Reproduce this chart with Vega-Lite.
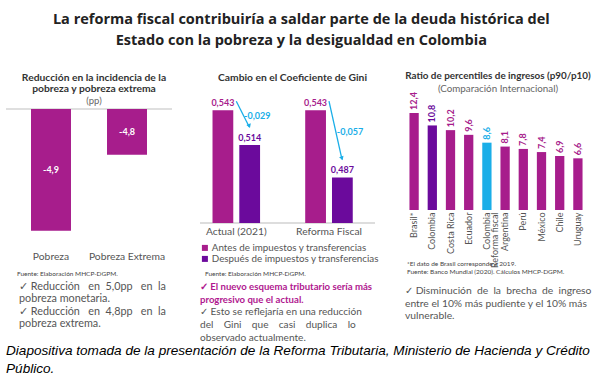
{
  "$schema": "https://vega.github.io/schema/vega-lite/v6.json",
  "background": "white",
  "padding": {"left": 5, "top": 11, "right": 0, "bottom": 0},
  "config": {
    "view": {"stroke": null},
    "font": "Lato",
    "locale": {"number": {"decimal": ",", "thousands": ".", "grouping": [3], "currency": ["$", ""], "minus": "-"}},
    "axis": {"labelFont": "Lato", "labelColor": "#555", "domain": false, "ticks": false, "grid": false, "title": null},
    "title": {"font": "Lato", "subtitleFont": "Lato"}
  },
  "title": {
    "text": ["Diapositiva tomada de la presentación de la Reforma Tributaria, Ministerio de Hacienda y Crédito", "Público."],
    "orient": "bottom", "anchor": "start", "frame": "group",
    "font": "Liberation Sans", "fontStyle": "italic", "fontWeight": "normal", "fontSize": 13.6, "color": "#000", "lineHeight": 18, "offset": 1
  },
  "resolve": {"legend": {"color": "independent"}, "scale": {"color": "independent"}},
  "vconcat": [
    {
      "title": {
        "text": ["La reforma fiscal contribuiría a saldar parte de la deuda histórica del", "Estado con la pobreza y la desigualdad en Colombia"],
        "anchor": "middle", "frame": "bounds", "font": "Open Sans", "fontSize": 14.5, "fontWeight": "bold", "color": "#222", "lineHeight": 21, "offset": 23, "dx": 3
      },
      "bounds": "full",
      "spacing": 26,
      "resolve": {"legend": {"color": "independent"}, "scale": {"color": "independent"}},
      "hconcat": [
        {
          "bounds": "flush",
          "spacing": 10,
          "vconcat": [
            {
              "width": 166, "height": 137,
              "title": {"text": ["Reducción en la incidencia de la", "pobreza y pobreza extrema"], "subtitle": "(pp)", "fontSize": 10.3, "fontWeight": "bold", "color": "#333", "lineHeight": 11.3, "subtitleFontSize": 9.5, "subtitleColor": "#666", "subtitlePadding": 1, "offset": 3, "dx": 5, "anchor": "middle"},
              "data": {"values": [
                {"indicador": "Pobreza", "cambio": -4.9},
                {"indicador": "Pobreza Extrema", "cambio": -4.8}
              ]},
              "resolve": {"scale": {"y": "independent"}},
              "layer": [
                {
                  "mark": {"type": "rule", "color": "#dddddd", "strokeWidth": 1.5},
                  "encoding": {"y": {"datum": -4.74, "scale": {"domain": [-4.92, -4.74], "nice": false, "zero": false}, "axis": null}}
                },
                {
                  "mark": {"type": "bar", "color": "#A71D8C"},
                  "encoding": {
                    "x": {"field": "indicador", "type": "nominal", "sort": null, "scale": {"paddingInner": 0.474, "paddingOuter": 0.329}, "axis": {"labelAngle": 0, "labelFontSize": 10.3, "labelPadding": 5}},
                    "y": {"field": "cambio", "type": "quantitative", "scale": {"domain": [-4.92, -4.74], "nice": false, "zero": false}, "axis": null},
                    "y2": {"datum": -4.74}
                  }
                },
                {
                  "mark": {"type": "text", "color": "white", "fontSize": 9, "fontWeight": "bold", "baseline": "middle"},
                  "encoding": {
                    "x": {"field": "indicador", "type": "nominal", "sort": null},
                    "y": {"field": "cambio", "type": "quantitative", "scale": {"domain": [-5.1, -4.74], "nice": false, "zero": false}, "axis": null},
                    "text": {"field": "cambio", "type": "quantitative", "format": ".1f"}
                  }
                }
              ]
            },
            {
              "width": 166, "height": 1,
              "data": {"values": []},
              "mark": {"type": "point", "opacity": 0},
              "title": {"text": "Fuente: Elaboración MHCP-DGPM.", "orient": "bottom", "anchor": "start", "fontSize": 6.5, "fontWeight": "normal", "color": "#444", "offset": 13.5, "dx": 11}
            },
            {
              "width": 166, "height": 1,
              "data": {"values": []},
              "mark": {"type": "point", "opacity": 0},
              "title": {"text": ["✓ Reducción\u00a0\u00a0 en\u00a0 5,0pp\u00a0\u00a0 en\u00a0 la", "\u00a0\u00a0\u00a0\u00a0pobreza monetaria.", "✓ Reducción\u00a0\u00a0 en\u00a0 4,8pp\u00a0\u00a0 en\u00a0 la", "\u00a0\u00a0\u00a0\u00a0pobreza extrema."], "orient": "bottom", "anchor": "start", "fontSize": 10.8, "fontWeight": "normal", "color": "#555", "lineHeight": 12.6, "offset": 12.5, "dx": 13}
            }
          ]
        },
        {
          "bounds": "flush",
          "spacing": 10,
          "resolve": {"legend": {"color": "independent"}, "scale": {"color": "independent"}},
          "vconcat": [
            {
              "width": 175, "height": 114,
              "title": {"text": "Cambio en el Coeficiente de Gini", "fontSize": 10.3, "fontWeight": "bold", "color": "#333", "offset": 16, "dx": 5, "anchor": "middle"},
              "layer": [
                {
                  "data": {"values": [
                    {"grupo": "Actual (2021)", "momento": "Antes de impuestos y transferencias", "gini": 0.543},
                    {"grupo": "Actual (2021)", "momento": "Después de impuestos y transferencias", "gini": 0.514},
                    {"grupo": "Reforma Fiscal", "momento": "Antes de impuestos y transferencias", "gini": 0.543},
                    {"grupo": "Reforma Fiscal", "momento": "Después de impuestos y transferencias", "gini": 0.487}
                  ]},
                  "layer": [
                    {
                      "mark": {"type": "rule", "color": "#dddddd", "strokeWidth": 1.5},
                      "encoding": {"y": {"datum": 0.449}}
                    },
                    {
                      "mark": {"type": "bar"},
                      "encoding": {
                        "x": {"field": "grupo", "type": "nominal", "sort": null, "scale": {"paddingInner": 0.487, "paddingOuter": 0.1875, "align": 0.36}, "axis": {"labelAngle": 0, "labelFontSize": 10.3, "labelPadding": 3}},
                        "xOffset": {"field": "momento", "type": "nominal", "sort": null, "scale": {"paddingInner": 0.225, "paddingOuter": 0}},
                        "y": {"field": "gini", "type": "quantitative", "scale": {"domain": [0.449, 0.544], "nice": false, "zero": false}, "axis": null},
                        "y2": {"datum": 0.449},
                        "color": {"field": "momento", "type": "nominal", "sort": null, "scale": {"range": ["#A71D8C", "#6B0A9C"]},
                          "legend": {"title": null, "orient": "bottom", "direction": "vertical", "symbolType": "square", "symbolSize": 36, "labelFontSize": 9.8, "labelColor": "#555", "labelFont": "Lato", "rowPadding": 0, "offset": 6, "labelOffset": 2, "labelLimit": 300, "padding": 0}}
                      }
                    },
                    {
                      "mark": {"type": "text", "fontSize": 9, "fontWeight": "bold", "baseline": "bottom", "dy": -2},
                      "encoding": {
                        "x": {"field": "grupo", "type": "nominal", "sort": null},
                        "xOffset": {"field": "momento", "type": "nominal", "sort": null},
                        "y": {"field": "gini", "type": "quantitative"},
                        "text": {"field": "gini", "type": "quantitative", "format": ".3f"},
                        "color": {"field": "momento", "type": "nominal", "sort": null}
                      }
                    }
                  ]
                },
                {
                  "data": {"values": [
                    {"grupo": "Actual (2021)", "desde": 0.543, "hasta": 0.514, "cambio": -0.029},
                    {"grupo": "Reforma Fiscal", "desde": 0.543, "hasta": 0.487, "cambio": -0.057}
                  ]},
                  "layer": [
                    {
                      "mark": {"type": "rule", "color": "#1AAEE8", "strokeWidth": 1.3, "yOffset": -9, "y2Offset": -18, "x2Offset": 13},
                      "encoding": {
                        "x": {"field": "grupo", "type": "nominal", "sort": null},
                        "x2": {"field": "grupo"},
                        "y": {"field": "desde", "type": "quantitative"},
                        "y2": {"field": "hasta"}
                      }
                    },
                    {
                      "mark": {"type": "point", "shape": "triangle-down", "filled": true, "size": 22, "opacity": 1, "color": "#1AAEE8", "xOffset": 13, "yOffset": -19, "angle": -20},
                      "encoding": {
                        "x": {"field": "grupo", "type": "nominal", "sort": null},
                        "y": {"field": "hasta", "type": "quantitative"}
                      }
                    },
                    {
                      "transform": [{"fold": ["desde", "hasta"], "as": ["extremo", "valor"]}],
                      "mark": {"type": "text", "color": "#1AAEE8", "fontSize": 9, "fontWeight": "bold", "dx": 21, "dy": -12},
                      "encoding": {
                        "x": {"field": "grupo", "type": "nominal", "sort": null},
                        "y": {"aggregate": "mean", "field": "valor", "type": "quantitative"},
                        "text": {"field": "cambio", "type": "quantitative", "format": ".3f"}
                      }
                    }
                  ]
                }
              ]
            },
            {
              "width": 175, "height": 1,
              "data": {"values": []},
              "mark": {"type": "point", "opacity": 0},
              "title": {"text": "Fuente: Elaboración MHCP-DGPM.", "orient": "bottom", "anchor": "start", "fontSize": 6.5, "fontWeight": "normal", "color": "#444", "offset": 36.5, "dx": 5}
            },
            {
              "width": 175, "height": 1,
              "data": {"values": []},
              "mark": {"type": "point", "opacity": 0},
              "title": {"text": ["✓ El nuevo esquema tributario sería más", "\u00a0\u00a0\u00a0\u00a0progresivo que el actual."], "subtitle": ["✓ Esto se reflejaría en una reducción", "\u00a0\u00a0\u00a0\u00a0del\u00a0\u00a0\u00a0 Gini\u00a0\u00a0\u00a0 que\u00a0\u00a0\u00a0 casi\u00a0\u00a0\u00a0 duplica\u00a0\u00a0\u00a0 lo", "\u00a0\u00a0\u00a0\u00a0observado actualmente."], "orient": "bottom", "anchor": "start", "fontSize": 9.6, "fontWeight": "bold", "color": "#B0178F", "lineHeight": 12.5, "subtitleFontSize": 10.1, "subtitleColor": "#555", "subtitleLineHeight": 12.8, "subtitlePadding": 3, "offset": 37, "dx": 0}
            }
          ]
        },
        {
          "bounds": "flush",
          "spacing": 10,
          "vconcat": [
            {
              "width": 182, "height": 101,
              "title": {"text": "Ratio de percentiles de ingresos (p90/p10)", "subtitle": "(Comparación Internacional)", "fontSize": 9.9, "fontWeight": "bold", "color": "#333", "subtitleFontSize": 9.8, "subtitleColor": "#666", "subtitlePadding": 3, "offset": -2, "dx": 2, "anchor": "middle"},
              "data": {"values": [
                {"pais": "Brasil*", "ratio": 12.4},
                {"pais": "Colombia", "ratio": 10.8},
                {"pais": "Costa Rica", "ratio": 10.2},
                {"pais": "Ecuador", "ratio": 9.6},
                {"pais": "Colombia Reforma fiscal", "ratio": 8.6},
                {"pais": "Argentina", "ratio": 8.1},
                {"pais": "Perú", "ratio": 7.8},
                {"pais": "México", "ratio": 7.4},
                {"pais": "Chile", "ratio": 6.9},
                {"pais": "Uruguay", "ratio": 6.6}
              ]},
              "encoding": {
                "x": {"field": "pais", "type": "nominal", "sort": null, "scale": {"paddingInner": 0.49, "paddingOuter": 0.245},
                  "axis": {"labelAngle": -90, "labelFontSize": 9, "labelPadding": 2, "labelLineHeight": 8,
                    "labelExpr": "datum.value === 'Colombia Reforma fiscal' ? ['Colombia', 'Reforma fiscal'] : datum.value"}},
                "y": {"field": "ratio", "type": "quantitative", "scale": {"domain": [0, 12.9], "nice": false}, "axis": null},
                "color": {"condition": [
                  {"test": "datum.pais === 'Colombia'", "value": "#6B0A9C"},
                  {"test": "datum.pais === 'Colombia Reforma fiscal'", "value": "#1AAEE8"}
                ], "value": "#A71D8C"}
              },
              "layer": [
                {"mark": {"type": "bar"}},
                {
                  "mark": {"type": "text", "angle": -90, "align": "left", "baseline": "middle", "dx": 3, "fontSize": 9, "fontWeight": "bold"},
                  "encoding": {"text": {"field": "ratio", "type": "quantitative", "format": ".1f"}}
                }
              ]
            },
            {
              "width": 182, "height": 1,
              "data": {"values": []},
              "mark": {"type": "point", "opacity": 0},
              "title": {"text": ["*El dato de Brasil corresponde a 2019.", "Fuente: Banco Mundial (2020). Cálculos MHCP-DGPM."], "orient": "bottom", "anchor": "start", "fontSize": 6.5, "fontWeight": "normal", "color": "#444", "lineHeight": 8.5, "offset": 39.5, "dx": 2}
            },
            {
              "width": 182, "height": 1,
              "data": {"values": []},
              "mark": {"type": "point", "opacity": 0},
              "title": {"text": ["✓ Disminución\u00a0 de\u00a0 la\u00a0 brecha\u00a0 de\u00a0 ingreso", "\u00a0\u00a0\u00a0entre el 10% más pudiente y el 10% más", "\u00a0\u00a0\u00a0vulnerable."], "orient": "bottom", "anchor": "start", "fontSize": 10.3, "fontWeight": "normal", "color": "#555", "lineHeight": 12.5, "offset": 54, "dx": 0}
            }
          ]
        }
      ]
    }
  ]
}
